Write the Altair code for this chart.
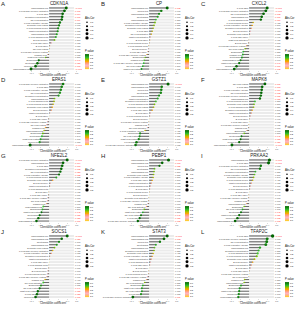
import altair as alt
import pandas as pd

FONT = "Liberation Sans"

CELLS = ["B cells naive", "B cells memory", "Plasma cells", "T cells CD8",
         "T cells CD4 naive", "T cells CD4 memory resting", "T cells CD4 memory activated",
         "T cells follicular helper", "T cells regulatory (Tregs)", "T cells gamma delta",
         "NK cells resting", "NK cells activated", "Monocytes", "Macrophages M0",
         "Macrophages M1", "Macrophages M2", "Dendritic cells resting",
         "Dendritic cells activated", "Mast cells resting", "Mast cells activated",
         "Eosinophils", "Neutrophils"]

LETTERS = ["A", "B", "C", "D", "E", "F", "G", "H", "I", "J", "K", "L"]
GENES = ["CDKN1A", "CP", "CXCL2", "EPAS1", "GSTZ1", "MAPK8",
         "NFE2L2", "PEBP1", "PRKAA2", "SOCS1", "STAT3", "TFAP2C"]

ORDER_A = [14, 6, 3, 17, 11, 8, 16, 7, 19, 15, 9, 1, 4, 0, 10, 5, 2, 18, 20, 21, 12, 13]
COR_A = [0.38, 0.34, 0.30, 0.29, 0.28, 0.24, 0.22, 0.20, 0.19, 0.17, 0.15, 0.12, 0.05, 0.02, 0.01, -0.01, -0.03, -0.08, -0.23, -0.26, -0.30, -0.40]
P_A = [0.0003, 0.001, 0.004, 0.006, 0.009, 0.06, 0.08, 0.10, 0.12, 0.16, 0.20, 0.30, 0.72, 0.85, 0.95, 0.50, 0.62, 0.30, 0.04, 0.02, 0.008, 0.0002]

ORDER_B = [13, 12, 15, 21, 14, 8, 17, 16, 3, 11, 19, 0, 7, 9, 1, 4, 5, 20, 2, 6, 10, 18]
COR_B = [0.40, 0.27, 0.22, 0.19, 0.15, 0.13, 0.11, 0.09, 0.07, 0.05, 0.03, 0.02, 0.01, -0.01, -0.02, -0.03, -0.05, -0.09, -0.11, -0.12, -0.14, -0.17]
P_B = [0.002, 0.07, 0.12, 0.16, 0.25, 0.30, 0.33, 0.36, 0.40, 0.45, 0.72, 0.55, 0.92, 0.50, 0.78, 0.83, 0.52, 0.30, 0.27, 0.24, 0.20, 0.13]

ORDER_C = [3, 6, 11, 14, 9, 7, 8, 17, 1, 16, 4, 19, 0, 5, 10, 20, 2, 21, 15, 18, 12, 13]
COR_C = [0.40, 0.37, 0.32, 0.28, 0.26, 0.09, 0.07, 0.05, 0.03, 0.02, 0.00, -0.01, -0.02, -0.06, -0.09, -0.13, -0.14, -0.16, -0.19, -0.22, -0.28, -0.33]
P_C = [0.0002, 0.0006, 0.002, 0.006, 0.01, 0.42, 0.50, 0.60, 0.75, 0.85, 0.97, 0.92, 0.88, 0.55, 0.33, 0.22, 0.18, 0.14, 0.09, 0.04, 0.007, 0.002]

ORDER_D = [6, 3, 8, 11, 17, 14, 9, 7, 16, 1, 19, 0, 4, 5, 10, 2, 15, 20, 21, 18, 12, 13]
COR_D = [0.31, 0.28, 0.26, 0.24, 0.21, 0.12, 0.11, 0.09, 0.07, 0.05, 0.02, 0.00, -0.02, -0.04, -0.05, -0.08, -0.11, -0.14, -0.16, -0.19, -0.21, -0.42]
P_D = [0.06, 0.08, 0.10, 0.12, 0.15, 0.30, 0.35, 0.42, 0.50, 0.60, 0.82, 0.97, 0.86, 0.72, 0.66, 0.52, 0.38, 0.30, 0.24, 0.18, 0.15, 0.0008]

ORDER_E = [13, 15, 12, 21, 14, 19, 17, 9, 16, 4, 0, 7, 1, 5, 2, 11, 8, 20, 10, 18, 3, 6]
COR_E = [0.42, 0.28, 0.27, 0.26, 0.22, 0.19, 0.15, 0.12, 0.10, 0.07, 0.03, 0.02, 0.00, -0.01, -0.02, -0.04, -0.09, -0.20, -0.21, -0.23, -0.28, -0.30]
P_E = [0.0004, 0.07, 0.08, 0.09, 0.13, 0.18, 0.26, 0.32, 0.38, 0.50, 0.74, 0.84, 0.97, 0.93, 0.86, 0.72, 0.42, 0.13, 0.12, 0.10, 0.06, 0.055]

ORDER_F = [10, 3, 8, 11, 6, 14, 7, 16, 9, 17, 19, 1, 0, 4, 5, 2, 20, 15, 21, 18, 12, 13]
COR_F = [0.35, 0.29, 0.28, 0.27, 0.26, 0.24, 0.13, 0.11, 0.10, 0.07, 0.05, 0.03, 0.01, 0.00, -0.01, -0.02, -0.05, -0.11, -0.17, -0.19, -0.22, -0.38]
P_F = [0.001, 0.008, 0.01, 0.012, 0.015, 0.03, 0.25, 0.30, 0.35, 0.50, 0.62, 0.78, 0.90, 0.98, 0.93, 0.86, 0.60, 0.30, 0.045, 0.03, 0.02, 0.0006]

ORDER_G = [6, 14, 3, 17, 11, 8, 7, 16, 1, 19, 9, 0, 4, 5, 10, 2, 15, 20, 18, 21, 12, 13]
COR_G = [0.40, 0.31, 0.29, 0.27, 0.25, 0.22, 0.16, 0.08, 0.03, 0.02, 0.00, -0.01, -0.02, -0.03, -0.04, -0.06, -0.13, -0.15, -0.17, -0.21, -0.24, -0.28]
P_G = [0.0003, 0.004, 0.008, 0.012, 0.02, 0.035, 0.18, 0.52, 0.78, 0.86, 0.98, 0.93, 0.88, 0.80, 0.72, 0.60, 0.26, 0.20, 0.045, 0.03, 0.02, 0.006]

ORDER_H = [13, 15, 12, 21, 14, 16, 8, 4, 19, 9, 0, 7, 1, 17, 5, 2, 11, 20, 18, 10, 3, 6]
COR_H = [0.43, 0.29, 0.23, 0.12, 0.11, 0.10, 0.09, 0.07, 0.05, 0.03, 0.02, 0.01, 0.00, -0.01, -0.02, -0.03, -0.06, -0.11, -0.14, -0.18, -0.21, -0.25]
P_H = [0.0001, 0.008, 0.035, 0.28, 0.30, 0.33, 0.38, 0.50, 0.62, 0.78, 0.86, 0.93, 0.98, 0.94, 0.88, 0.80, 0.60, 0.30, 0.20, 0.045, 0.03, 0.012]

ORDER_I = [14, 3, 6, 11, 17, 8, 16, 7, 19, 1, 9, 0, 4, 5, 2, 15, 20, 10, 21, 18, 12, 13]
COR_I = [0.45, 0.43, 0.26, 0.24, 0.14, 0.12, 0.10, 0.08, 0.05, 0.03, 0.02, 0.00, -0.01, -0.02, -0.03, -0.06, -0.11, -0.15, -0.18, -0.22, -0.26, -0.31]
P_I = [0.0001, 0.0002, 0.06, 0.07, 0.22, 0.28, 0.34, 0.42, 0.62, 0.78, 0.86, 0.98, 0.94, 0.88, 0.80, 0.60, 0.30, 0.18, 0.045, 0.03, 0.012, 0.003]

ORDER_J = [13, 15, 21, 14, 16, 6, 8, 17, 19, 4, 9, 0, 1, 7, 5, 2, 11, 20, 10, 18, 3, 12]
COR_J = [0.40, 0.28, 0.22, 0.17, 0.12, 0.08, 0.05, 0.02, 0.01, 0.00, -0.01, -0.02, -0.03, -0.04, -0.05, -0.09, -0.13, -0.18, -0.21, -0.25, -0.27, -0.30]
P_J = [0.0003, 0.02, 0.10, 0.15, 0.30, 0.45, 0.62, 0.86, 0.94, 0.99, 0.94, 0.88, 0.80, 0.74, 0.66, 0.46, 0.26, 0.12, 0.049, 0.03, 0.02, 0.008]

ORDER_K = [13, 15, 12, 21, 14, 17, 16, 8, 19, 9, 4, 0, 1, 7, 5, 2, 11, 20, 18, 10, 3, 6]
COR_K = [0.40, 0.33, 0.24, 0.15, 0.12, 0.11, 0.09, 0.07, 0.05, 0.03, 0.02, 0.00, -0.01, -0.02, -0.04, -0.06, -0.10, -0.14, -0.16, -0.16, -0.18, -0.36]
P_K = [0.0003, 0.003, 0.07, 0.18, 0.28, 0.32, 0.42, 0.52, 0.62, 0.78, 0.86, 0.99, 0.94, 0.88, 0.74, 0.60, 0.33, 0.20, 0.15, 0.15, 0.12, 0.001]

ORDER_L = [3, 6, 11, 8, 14, 17, 9, 7, 16, 1, 19, 0, 4, 5, 10, 2, 15, 20, 21, 18, 12, 13]
COR_L = [0.52, 0.40, 0.39, 0.37, 0.24, 0.21, 0.19, 0.17, 0.12, 0.08, 0.05, 0.03, 0.01, 0.00, -0.01, -0.10, -0.11, -0.18, -0.21, -0.22, -0.23, -0.24]
P_L = [0.0001, 0.06, 0.065, 0.08, 0.16, 0.22, 0.26, 0.30, 0.38, 0.50, 0.62, 0.78, 0.92, 0.99, 0.94, 0.35, 0.32, 0.17, 0.12, 0.11, 0.10, 0.09]

PANELS = [(ORDER_A, COR_A, P_A), (ORDER_B, COR_B, P_B), (ORDER_C, COR_C, P_C),
          (ORDER_D, COR_D, P_D), (ORDER_E, COR_E, P_E), (ORDER_F, COR_F, P_F),
          (ORDER_G, COR_G, P_G), (ORDER_H, COR_H, P_H), (ORDER_I, COR_I, P_I),
          (ORDER_J, COR_J, P_J), (ORDER_K, COR_K, P_K), (ORDER_L, COR_L, P_L)]

X_TICKS = [-0.4, -0.2, 0.0, 0.2, 0.4, 0.6]
SIZE_VALUES = [0.1, 0.2, 0.3, 0.4, 0.5]
# listed from the top of the legend (small P) to the bottom (large P)
P_STOPS = [1, 0.75, 0.5, 0.25, 0]
P_COLORS = ["#ffd700", "#ffb6c1", "#ffa500", "#33c233", "#006400"]

W, H = 61, 64
XSCALE = alt.Scale(domain=[-0.6, 0.75], nice=False, zero=False)
XAXIS = alt.Axis(values=X_TICKS, title="Correlation coefficient", format=".1f",
                 labelFontSize=2.3, titleFontSize=2.7, tickSize=0.6, tickWidth=0.4,
                 tickColor="#666", domain=False, grid=False, labelPadding=0.3,
                 titlePadding=0.5, labelFont=FONT, titleFont=FONT,
                 titleFontWeight="normal", labelColor="#444", titleColor="#222",
                 labelFlush=False, labelOverlap=False)


def fmt_p(p):
    return "<0.001" if p < 0.001 else f"{p:.3f}"


def panel(i):
    order, cor, p = PANELS[i]
    df = pd.DataFrame({
        "rank": list(range(len(cor))),
        "cell": [CELLS[k] for k in order],
        "cor": cor,
        "p": p,
    })
    df["abs_cor"] = df["cor"].abs()
    df["lab_x"] = df["cor"].clip(upper=0)
    df["p_txt"] = [fmt_p(v) for v in p]

    base = alt.Chart(df)
    y = alt.Y("rank:O", axis=None, scale=alt.Scale(type="point", padding=0.5))

    track = base.mark_rule(color="#ebebeb", strokeWidth=2.0).encode(
        x=alt.X(datum=0, type="quantitative", scale=XSCALE, axis=XAXIS),
        x2=alt.X2(datum=0.55), y=y)
    bar = base.mark_rule(color="#6e6e6e", strokeWidth=1.1).encode(
        x=alt.X("cor:Q", scale=XSCALE, axis=XAXIS),
        x2=alt.X2(datum=0), y=y)
    dots = base.mark_circle(opacity=1).encode(
        x=alt.X("cor:Q", scale=XSCALE, axis=XAXIS),
        y=y,
        size=alt.Size("abs_cor:Q", scale=alt.Scale(domain=[0, 0.55], range=[0.4, 12]),
                      legend=alt.Legend(title="Abs.Cor", orient="none", legendX=63, legendY=11,
                                        values=SIZE_VALUES, symbolFillColor="black",
                                        symbolStrokeWidth=0, symbolType="circle",
                                        titleFontSize=2.6, labelFontSize=2.2, rowPadding=0.7,
                                        titlePadding=1, labelOffset=1.2, padding=0,
                                        titleFont=FONT, labelFont=FONT, titleFontWeight="normal")),
        color=alt.Color("p:Q", scale=alt.Scale(domain=P_STOPS, range=P_COLORS),
                        legend=alt.Legend(title="P value", orient="none", legendX=63, legendY=44,
                                          type="gradient", gradientLength=15, gradientThickness=4,
                                          values=P_STOPS, titleFontSize=2.6, labelFontSize=2.2,
                                          titlePadding=1, labelOffset=1, padding=0,
                                          gradientStrokeWidth=0, direction="vertical",
                                          titleFont=FONT, labelFont=FONT, titleFontWeight="normal")))
    labels = base.mark_text(align="right", baseline="middle", dx=-1, fontSize=2.2,
                            font=FONT, color="#3a3a3a").encode(
        x=alt.X("lab_x:Q", scale=XSCALE, axis=XAXIS), y=y, text="cell:N")
    ptext = base.mark_text(align="left", baseline="middle", fontSize=2.2, font=FONT).encode(
        x=alt.X(datum=0.575, type="quantitative", scale=XSCALE, axis=XAXIS), y=y, text="p_txt:N",
        color=alt.condition(alt.datum.p < 0.05, alt.value("#ff2d2d"), alt.value("#555555")))
    head = alt.Chart(pd.DataFrame({"letter": [LETTERS[i]], "gene": [GENES[i]]}))
    letter = head.mark_text(align="left", baseline="top", fontSize=6, font=FONT,
                            color="#222").encode(
        text="letter:N", x=alt.value(-21), y=alt.value(-5.5))
    gene = head.mark_text(align="center", baseline="middle", fontSize=4.5, font=FONT,
                          color="#222").encode(
        text="gene:N", x=alt.value(37), y=alt.value(-2.3))

    return alt.layer(track, bar, dots, labels, ptext, letter, gene).properties(
        width=W, height=H,
    ).resolve_scale(color="independent", size="independent")


chart = alt.concat(*[panel(i) for i in range(12)], columns=3,
                   spacing={"row": 12, "column": 39}, bounds="flush").resolve_scale(
    color="independent", size="independent").resolve_legend(
    color="independent", size="independent").properties(
    padding={"left": 1, "top": 0.5, "right": 0, "bottom": 0}
).configure_view(stroke=None).configure_axis(
    labelFontSize=2.3, titleFontSize=2.7, tickSize=0.6, labelFont=FONT, titleFont=FONT
).configure_text(font=FONT).configure_legend(labelFont=FONT, titleFont=FONT)

chart.save("out.html", embed_options={"renderer": "svg", "actions": False})
